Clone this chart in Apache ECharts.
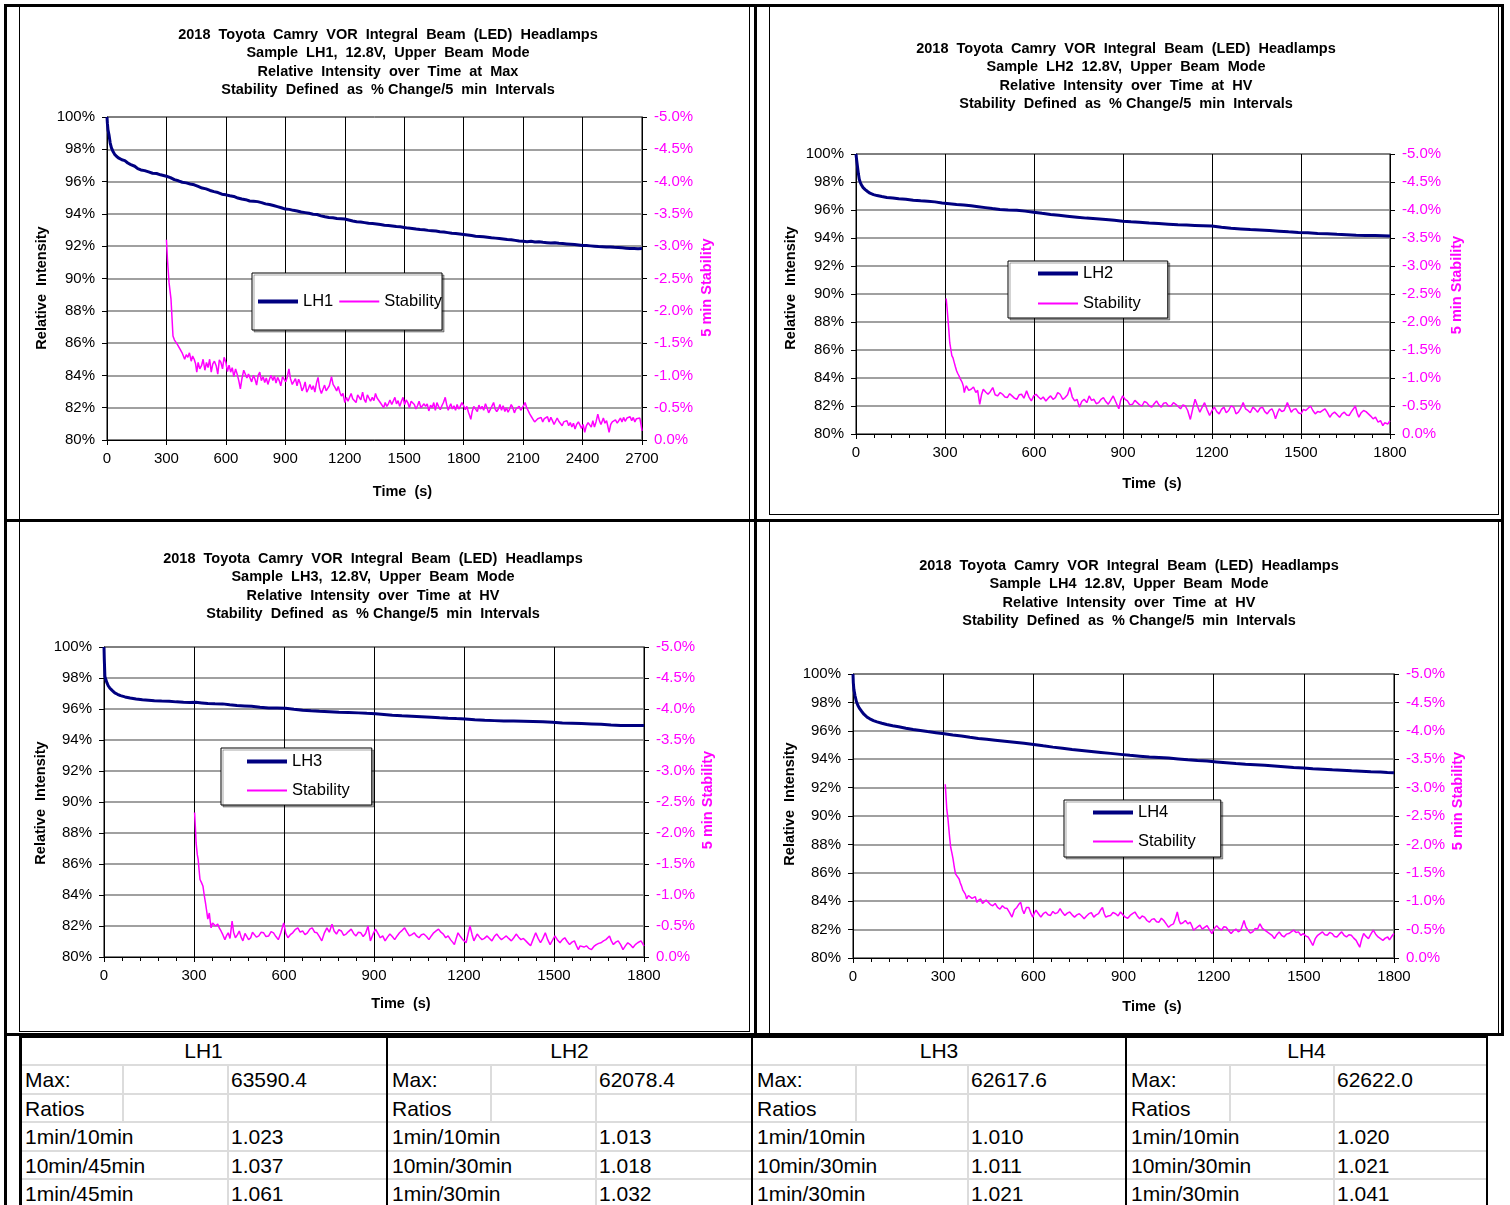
<!DOCTYPE html>
<html><head><meta charset="utf-8">
<script src="https://cdn.jsdelivr.net/npm/echarts@6/dist/echarts.min.js"></script>
<style>
html,body{margin:0;padding:0;background:#fff;width:1510px;height:1205px;overflow:hidden;font-family:"Liberation Sans",Arial,sans-serif;}
.ln{position:absolute;background:#000;z-index:5;}
.box{position:absolute;border:1px solid #000;box-sizing:border-box;z-index:1;}
#chart{position:absolute;left:0;top:0;width:1510px;height:1034px;z-index:3;}
.tx{position:absolute;font-size:21px;color:#000;white-space:nowrap;line-height:28px;height:28px;z-index:4;}
.gl{position:absolute;background:#dcdcdc;z-index:2;}
</style></head>
<body>
<div class="box" style="left:19px;top:5px;width:731px;height:516px"></div>
<div class="box" style="left:769px;top:5px;width:730px;height:510px"></div>
<div class="box" style="left:19px;top:520px;width:731px;height:512px"></div>
<div class="box" style="left:769px;top:520px;width:730px;height:514px"></div>
<div class="ln" style="left:4px;top:4px;width:1500px;height:3px"></div>
<div class="ln" style="left:4px;top:4px;width:3px;height:1201px"></div>
<div class="ln" style="left:1501px;top:4px;width:3px;height:1031px"></div>
<div class="ln" style="left:754px;top:4px;width:3px;height:1031px"></div>
<div class="ln" style="left:4px;top:519px;width:1500px;height:3px"></div>
<div class="ln" style="left:4px;top:1033px;width:1500px;height:3px"></div>
<div id="chart"></div>
<div id="tbl"></div>
<script>
// ---------------- DATA ----------------
const lh1Intensity = [[0,100],[2,99.6],[5,99.2],[10,98.9],[16,98.4],[22,98.1],[29,97.9],[38,97.7],[49,97.55],[60,97.45],[75,97.35],[90,97.3],[105,97.15],[120,97.05],[140,96.95],[155,96.8],[171,96.72],[190,96.68],[210,96.6],[230,96.52],[250,96.5],[270,96.42],[300,96.33],[320,96.25],[340,96.12],[360,96.05],[380,95.96],[400,95.92],[420,95.85],[440,95.8],[460,95.7],[480,95.6],[500,95.55],[520,95.45],[540,95.38],[560,95.32],[580,95.22],[600,95.18],[620,95.12],[640,95.08],[660,94.98],[680,94.92],[700,94.88],[720,94.8],[740,94.78],[760,94.76],[780,94.7],[800,94.62],[820,94.58],[840,94.52],[860,94.45],[880,94.38],[900,94.3],[920,94.28],[940,94.22],[960,94.18],[980,94.12],[1000,94.08],[1020,94.04],[1040,93.98],[1060,93.96],[1080,93.88],[1100,93.82],[1120,93.78],[1140,93.76],[1160,93.72],[1180,93.7],[1200,93.68],[1220,93.62],[1240,93.56],[1260,93.52],[1280,93.5],[1300,93.46],[1320,93.42],[1340,93.4],[1360,93.38],[1380,93.34],[1400,93.3],[1420,93.28],[1440,93.25],[1460,93.22],[1480,93.2],[1500,93.16],[1520,93.12],[1540,93.1],[1560,93.06],[1580,93.03],[1600,93.02],[1620,92.98],[1640,92.96],[1660,92.94],[1680,92.9],[1700,92.88],[1720,92.84],[1740,92.8],[1760,92.79],[1780,92.76],[1800,92.73],[1820,92.7],[1840,92.66],[1860,92.62],[1880,92.6],[1900,92.58],[1920,92.55],[1940,92.52],[1960,92.5],[1980,92.48],[2000,92.45],[2020,92.42],[2040,92.4],[2060,92.36],[2080,92.32],[2100,92.3],[2120,92.28],[2140,92.3],[2160,92.26],[2180,92.27],[2200,92.24],[2220,92.22],[2240,92.2],[2260,92.22],[2280,92.18],[2300,92.16],[2320,92.14],[2340,92.12],[2360,92.1],[2380,92.08],[2400,92.05],[2420,92.04],[2440,92.02],[2460,92.0],[2480,91.98],[2500,91.97],[2520,91.95],[2540,91.95],[2560,91.93],[2580,91.92],[2600,91.9],[2620,91.88],[2640,91.86],[2660,91.85],[2680,91.84],[2700,91.85]];
const lh1Stability = [[300,-3.10],[305,-2.80],[313,-2.44],[323,-2.18],[328,-2.20],[333,-1.61],[340,-1.55],[348,-1.53],[355,-1.48],[362,-1.46],[370,-1.40],[379,-1.35],[385,-1.38],[392,-1.25],[400,-1.32],[408,-1.28],[416,-1.35],[425,-1.22],[432,-1.30],[440,-1.25],[447,-1.18],[453,-1.05],[460,-1.20],[468,-1.10],[477,-1.15],[485,-1.25],[494,-1.08],[502,-1.20],[510,-1.12],[518,-1.25],[526,-1.05],[534,-1.18],[542,-1.22],[551,-1.15],[559,-1.02],[567,-1.24],[575,-1.20],[583,-1.10],[591,-1.28],[600,-1.20],[608,-1.06],[616,-1.16],[624,-1.05],[632,-1.12],[640,-0.98],[649,-1.10],[657,-1.02],[665,-0.92],[673,-0.79],[681,-0.95],[690,-1.08],[698,-1.10],[706,-0.96],[714,-1.02],[722,-0.99],[730,-0.90],[739,-1.00],[747,-0.94],[755,-0.85],[763,-1.00],[771,-1.05],[779,-0.92],[788,-0.98],[796,-0.89],[804,-0.96],[812,-0.86],[820,-0.94],[828,-1.00],[837,-0.92],[845,-0.99],[853,-0.88],[861,-0.97],[869,-0.92],[877,-0.84],[886,-0.98],[894,-0.94],[902,-0.90],[910,-0.98],[918,-1.10],[926,-0.95],[935,-0.86],[943,-0.89],[951,-0.95],[959,-0.84],[967,-0.94],[975,-0.88],[984,-0.76],[992,-0.81],[1000,-0.90],[1008,-0.74],[1016,-0.79],[1024,-0.86],[1033,-0.78],[1041,-0.84],[1049,-0.74],[1057,-0.88],[1065,-0.97],[1073,-0.80],[1082,-0.72],[1090,-0.74],[1098,-0.85],[1106,-0.76],[1114,-0.79],[1122,-0.84],[1133,-0.98],[1141,-0.86],[1151,-0.81],[1159,-0.76],[1167,-0.83],[1175,-0.74],[1183,-0.68],[1191,-0.72],[1200,-0.58],[1208,-0.66],[1216,-0.60],[1224,-0.63],[1232,-0.72],[1240,-0.64],[1249,-0.66],[1257,-0.58],[1265,-0.70],[1273,-0.68],[1281,-0.62],[1290,-0.74],[1298,-0.63],[1306,-0.58],[1314,-0.70],[1322,-0.68],[1330,-0.60],[1339,-0.66],[1347,-0.61],[1355,-0.72],[1363,-0.65],[1371,-0.68],[1379,-0.58],[1388,-0.55],[1396,-0.50],[1404,-0.58],[1412,-0.52],[1420,-0.56],[1428,-0.62],[1437,-0.55],[1445,-0.58],[1453,-0.66],[1461,-0.56],[1469,-0.61],[1477,-0.52],[1486,-0.60],[1494,-0.66],[1502,-0.55],[1510,-0.62],[1518,-0.58],[1526,-0.50],[1535,-0.60],[1543,-0.61],[1551,-0.55],[1559,-0.48],[1567,-0.53],[1575,-0.60],[1584,-0.50],[1592,-0.48],[1600,-0.56],[1608,-0.52],[1616,-0.56],[1624,-0.45],[1633,-0.54],[1641,-0.50],[1649,-0.58],[1657,-0.46],[1665,-0.58],[1673,-0.52],[1682,-0.47],[1690,-0.53],[1698,-0.58],[1707,-0.66],[1714,-0.55],[1722,-0.46],[1726,-0.50],[1735,-0.56],[1743,-0.48],[1751,-0.53],[1759,-0.46],[1767,-0.55],[1775,-0.48],[1783,-0.52],[1791,-0.58],[1800,-0.53],[1808,-0.47],[1816,-0.52],[1824,-0.43],[1830,-0.38],[1836,-0.32],[1843,-0.44],[1851,-0.52],[1861,-0.50],[1869,-0.44],[1877,-0.54],[1885,-0.48],[1893,-0.52],[1901,-0.46],[1910,-0.56],[1918,-0.50],[1926,-0.42],[1934,-0.45],[1942,-0.52],[1951,-0.58],[1959,-0.48],[1967,-0.44],[1975,-0.48],[1983,-0.55],[1991,-0.46],[1999,-0.53],[2008,-0.44],[2016,-0.50],[2024,-0.43],[2032,-0.48],[2040,-0.55],[2048,-0.50],[2056,-0.42],[2064,-0.48],[2072,-0.45],[2080,-0.52],[2088,-0.46],[2096,-0.50],[2104,-0.54],[2110,-0.58],[2118,-0.50],[2126,-0.45],[2134,-0.40],[2142,-0.36],[2150,-0.32],[2158,-0.28],[2166,-0.25],[2174,-0.33],[2182,-0.30],[2191,-0.35],[2199,-0.28],[2207,-0.33],[2215,-0.30],[2223,-0.36],[2231,-0.28],[2240,-0.35],[2248,-0.30],[2256,-0.24],[2264,-0.27],[2272,-0.34],[2280,-0.29],[2289,-0.32],[2297,-0.22],[2305,-0.28],[2313,-0.25],[2321,-0.30],[2330,-0.22],[2338,-0.27],[2346,-0.20],[2354,-0.26],[2362,-0.17],[2370,-0.24],[2379,-0.28],[2387,-0.25],[2395,-0.18],[2403,-0.24],[2411,-0.12],[2419,-0.22],[2428,-0.27],[2436,-0.27],[2444,-0.20],[2452,-0.30],[2460,-0.20],[2468,-0.28],[2477,-0.40],[2485,-0.30],[2493,-0.24],[2497,-0.27],[2505,-0.34],[2513,-0.26],[2521,-0.30],[2527,-0.22],[2534,-0.12],[2542,-0.24],[2550,-0.28],[2558,-0.25],[2566,-0.31],[2575,-0.26],[2583,-0.30],[2591,-0.34],[2599,-0.28],[2607,-0.35],[2615,-0.29],[2624,-0.34],[2632,-0.32],[2640,-0.36],[2648,-0.30],[2656,-0.35],[2664,-0.28],[2672,-0.33],[2681,-0.30],[2689,-0.34],[2695,-0.24],[2700,-0.14]];

const lh2Intensity = [[0,100],[2,99.6],[5,99.1],[8,98.6],[11,98.2],[14,98.0],[18,97.8],[24,97.6],[31,97.46],[39,97.32],[47,97.2],[59,97.1],[71,97.03],[87,96.96],[104,96.9],[124,96.86],[144,96.8],[168,96.76],[193,96.7],[218,96.66],[242,96.63],[266,96.58],[290,96.5],[315,96.45],[339,96.4],[363,96.36],[388,96.3],[412,96.24],[436,96.17],[460,96.1],[485,96.03],[513,96.0],[542,95.99],[570,95.92],[599,95.84],[627,95.76],[656,95.68],[684,95.62],[712,95.56],[745,95.49],[777,95.42],[810,95.37],[842,95.32],[871,95.26],[899,95.2],[927,95.16],[955,95.13],[988,95.08],[1020,95.04],[1053,94.99],[1085,94.94],[1114,94.92],[1142,94.9],[1170,94.88],[1199,94.85],[1232,94.77],[1264,94.7],[1297,94.65],[1329,94.6],[1361,94.57],[1393,94.54],[1426,94.49],[1458,94.44],[1491,94.4],[1523,94.37],[1556,94.33],[1588,94.3],[1621,94.26],[1653,94.23],[1686,94.2],[1718,94.18],[1750,94.17],[1775,94.16],[1800,94.15]];
const lh2Stability = [[304,-2.42],[307,-2.25],[310,-2.05],[313,-1.85],[316,-1.63],[320,-1.50],[323,-1.40],[327,-1.36],[331,-1.28],[335,-1.20],[339,-1.13],[343,-1.08],[347,-1.04],[352,-0.98],[358,-0.92],[362,-0.85],[365,-0.74],[369,-0.82],[372,-0.86],[380,-0.78],[388,-0.80],[396,-0.84],[404,-0.74],[410,-0.78],[417,-0.53],[423,-0.70],[429,-0.80],[437,-0.75],[445,-0.71],[453,-0.76],[461,-0.83],[469,-0.70],[477,-0.68],[486,-0.74],[494,-0.71],[502,-0.66],[510,-0.65],[518,-0.72],[526,-0.68],[534,-0.64],[542,-0.62],[550,-0.70],[558,-0.71],[566,-0.64],[575,-0.77],[583,-0.66],[591,-0.59],[599,-0.68],[607,-0.71],[615,-0.66],[623,-0.62],[631,-0.66],[640,-0.59],[648,-0.64],[656,-0.68],[664,-0.62],[672,-0.65],[680,-0.74],[688,-0.71],[697,-0.62],[705,-0.65],[713,-0.70],[721,-0.83],[729,-0.66],[737,-0.59],[745,-0.62],[753,-0.48],[761,-0.58],[769,-0.62],[778,-0.56],[786,-0.68],[794,-0.60],[802,-0.62],[810,-0.54],[818,-0.56],[826,-0.62],[834,-0.65],[842,-0.58],[850,-0.53],[858,-0.60],[867,-0.68],[875,-0.58],[880,-0.52],[886,-0.45],[892,-0.60],[899,-0.68],[907,-0.62],[915,-0.59],[923,-0.52],[932,-0.53],[940,-0.60],[948,-0.56],[956,-0.52],[964,-0.50],[972,-0.58],[980,-0.56],[989,-0.50],[997,-0.48],[1005,-0.54],[1013,-0.59],[1021,-0.52],[1029,-0.48],[1037,-0.55],[1045,-0.56],[1053,-0.50],[1062,-0.50],[1070,-0.56],[1078,-0.53],[1086,-0.49],[1094,-0.45],[1102,-0.52],[1110,-0.50],[1118,-0.42],[1127,-0.26],[1135,-0.45],[1143,-0.62],[1151,-0.50],[1159,-0.39],[1167,-0.48],[1175,-0.56],[1183,-0.44],[1192,-0.33],[1200,-0.42],[1208,-0.48],[1216,-0.40],[1224,-0.36],[1232,-0.44],[1240,-0.48],[1248,-0.38],[1256,-0.42],[1264,-0.50],[1273,-0.48],[1281,-0.36],[1289,-0.39],[1297,-0.46],[1305,-0.56],[1313,-0.45],[1321,-0.42],[1329,-0.38],[1338,-0.48],[1346,-0.44],[1354,-0.39],[1362,-0.46],[1370,-0.48],[1378,-0.40],[1386,-0.36],[1394,-0.42],[1402,-0.45],[1408,-0.38],[1414,-0.27],[1421,-0.38],[1427,-0.45],[1435,-0.40],[1443,-0.42],[1448,-0.48],[1454,-0.56],[1460,-0.48],[1467,-0.39],[1475,-0.44],[1483,-0.45],[1491,-0.38],[1500,-0.36],[1508,-0.44],[1516,-0.42],[1524,-0.46],[1532,-0.50],[1540,-0.42],[1548,-0.36],[1556,-0.40],[1565,-0.39],[1573,-0.42],[1581,-0.45],[1589,-0.38],[1597,-0.30],[1605,-0.36],[1613,-0.39],[1621,-0.35],[1630,-0.30],[1638,-0.36],[1646,-0.39],[1654,-0.34],[1662,-0.33],[1670,-0.40],[1677,-0.45],[1683,-0.50],[1689,-0.38],[1695,-0.30],[1703,-0.38],[1711,-0.42],[1719,-0.40],[1727,-0.36],[1735,-0.32],[1743,-0.27],[1751,-0.30],[1760,-0.21],[1768,-0.24],[1776,-0.15],[1782,-0.20],[1787,-0.22],[1793,-0.18],[1800,-0.24]];

const lh3Intensity = [[0,100],[1,99.2],[3,98.1],[6,97.9],[10,97.68],[14,97.5],[19,97.36],[27,97.2],[36,97.04],[45,96.95],[55,96.86],[70,96.78],[87,96.71],[107,96.65],[128,96.6],[148,96.57],[168,96.54],[192,96.52],[217,96.5],[241,96.46],[265,96.43],[286,96.42],[306,96.43],[326,96.39],[346,96.35],[370,96.34],[395,96.33],[419,96.27],[443,96.22],[468,96.2],[492,96.18],[520,96.12],[549,96.07],[577,96.06],[605,96.05],[633,95.98],[662,95.92],[690,95.88],[718,95.85],[751,95.82],[783,95.79],[815,95.77],[848,95.75],[876,95.72],[905,95.7],[933,95.65],[961,95.6],[993,95.56],[1026,95.53],[1058,95.5],[1091,95.47],[1119,95.43],[1147,95.4],[1175,95.38],[1204,95.36],[1236,95.31],[1269,95.27],[1301,95.25],[1333,95.23],[1365,95.22],[1398,95.21],[1430,95.2],[1463,95.18],[1495,95.14],[1528,95.1],[1560,95.08],[1592,95.06],[1625,95.04],[1657,95.02],[1690,94.97],[1722,94.93],[1760,94.93],[1800,94.93]];
const lh3Stability = [[302,-2.33],[305,-2.05],[307,-1.84],[311,-1.65],[314,-1.57],[317,-1.40],[320,-1.25],[325,-1.20],[330,-1.14],[334,-1.00],[338,-0.88],[342,-0.75],[346,-0.61],[351,-0.71],[354,-0.58],[357,-0.47],[362,-0.55],[366,-0.58],[372,-0.50],[379,-0.53],[385,-0.46],[390,-0.42],[396,-0.36],[403,-0.28],[408,-0.34],[414,-0.39],[420,-0.30],[427,-0.58],[432,-0.40],[438,-0.31],[445,-0.36],[451,-0.42],[457,-0.32],[463,-0.26],[470,-0.38],[476,-0.39],[482,-0.28],[489,-0.31],[495,-0.40],[500,-0.39],[508,-0.32],[516,-0.34],[524,-0.40],[532,-0.39],[540,-0.33],[549,-0.34],[557,-0.41],[565,-0.39],[573,-0.33],[581,-0.28],[590,-0.40],[599,-0.55],[606,-0.38],[613,-0.31],[621,-0.36],[629,-0.39],[637,-0.44],[646,-0.47],[654,-0.40],[662,-0.42],[670,-0.36],[678,-0.39],[686,-0.45],[694,-0.47],[702,-0.40],[710,-0.39],[718,-0.33],[726,-0.26],[734,-0.38],[743,-0.47],[751,-0.40],[760,-0.53],[767,-0.42],[775,-0.37],[783,-0.44],[791,-0.42],[799,-0.35],[807,-0.37],[815,-0.41],[824,-0.45],[832,-0.38],[840,-0.34],[848,-0.40],[856,-0.39],[864,-0.33],[872,-0.38],[880,-0.50],[888,-0.26],[896,-0.36],[905,-0.45],[913,-0.38],[921,-0.31],[929,-0.34],[937,-0.26],[945,-0.32],[953,-0.37],[961,-0.33],[969,-0.28],[977,-0.34],[985,-0.39],[994,-0.43],[1002,-0.47],[1010,-0.40],[1018,-0.34],[1026,-0.36],[1034,-0.39],[1042,-0.34],[1050,-0.31],[1058,-0.36],[1066,-0.37],[1075,-0.33],[1083,-0.28],[1091,-0.34],[1099,-0.39],[1107,-0.42],[1115,-0.45],[1123,-0.40],[1131,-0.37],[1139,-0.31],[1147,-0.34],[1155,-0.28],[1162,-0.24],[1168,-0.20],[1174,-0.30],[1180,-0.39],[1188,-0.33],[1196,-0.28],[1202,-0.25],[1207,-0.23],[1214,-0.38],[1220,-0.50],[1227,-0.36],[1233,-0.26],[1239,-0.32],[1244,-0.37],[1252,-0.32],[1260,-0.28],[1268,-0.30],[1277,-0.34],[1285,-0.30],[1293,-0.26],[1301,-0.33],[1309,-0.37],[1317,-0.32],[1325,-0.28],[1333,-0.31],[1341,-0.34],[1349,-0.30],[1358,-0.26],[1366,-0.31],[1374,-0.37],[1382,-0.32],[1390,-0.28],[1398,-0.30],[1406,-0.26],[1414,-0.22],[1422,-0.18],[1430,-0.28],[1439,-0.39],[1447,-0.30],[1455,-0.23],[1463,-0.30],[1471,-0.39],[1479,-0.28],[1487,-0.20],[1495,-0.27],[1503,-0.34],[1511,-0.28],[1520,-0.23],[1528,-0.28],[1536,-0.31],[1544,-0.25],[1552,-0.20],[1560,-0.24],[1568,-0.26],[1575,-0.18],[1581,-0.12],[1587,-0.18],[1592,-0.20],[1600,-0.16],[1608,-0.18],[1616,-0.14],[1625,-0.12],[1633,-0.17],[1641,-0.20],[1649,-0.22],[1657,-0.23],[1665,-0.26],[1673,-0.28],[1679,-0.30],[1685,-0.34],[1691,-0.26],[1698,-0.20],[1706,-0.24],[1714,-0.26],[1722,-0.20],[1730,-0.12],[1738,-0.18],[1746,-0.23],[1754,-0.20],[1763,-0.15],[1771,-0.20],[1779,-0.23],[1785,-0.26],[1790,-0.26],[1795,-0.22],[1800,-0.18]];

const lh4Intensity = [[0,100],[1,99.4],[3,98.9],[7,98.45],[11,98.08],[16,97.8],[21,97.6],[29,97.36],[37,97.15],[46,96.98],[56,96.84],[68,96.72],[80,96.63],[96,96.53],[112,96.44],[132,96.35],[152,96.28],[176,96.18],[200,96.09],[224,96.02],[248,95.95],[276,95.87],[304,95.79],[332,95.71],[361,95.63],[389,95.54],[417,95.46],[445,95.4],[473,95.34],[505,95.27],[537,95.2],[569,95.12],[601,95.04],[633,94.94],[665,94.85],[697,94.77],[729,94.69],[761,94.62],[793,94.55],[825,94.48],[857,94.41],[889,94.34],[921,94.27],[954,94.21],[986,94.15],[1018,94.12],[1050,94.08],[1082,94.02],[1114,93.96],[1146,93.91],[1178,93.87],[1210,93.81],[1242,93.75],[1274,93.69],[1306,93.64],[1338,93.61],[1370,93.57],[1402,93.52],[1434,93.47],[1466,93.42],[1498,93.38],[1530,93.33],[1563,93.29],[1595,93.25],[1627,93.22],[1659,93.18],[1691,93.15],[1723,93.12],[1755,93.1],[1778,93.07],[1800,93.05]];
const lh4Stability = [[307,-3.06],[310,-2.80],[312,-2.62],[316,-2.45],[319,-2.27],[322,-2.10],[325,-1.95],[329,-1.85],[333,-1.74],[337,-1.60],[341,-1.48],[347,-1.45],[353,-1.39],[357,-1.32],[361,-1.27],[365,-1.20],[369,-1.22],[374,-1.12],[378,-1.04],[384,-1.10],[390,-1.13],[396,-1.05],[401,-1.04],[407,-1.08],[412,-0.98],[418,-1.02],[425,-1.04],[431,-0.96],[437,-0.95],[443,-1.02],[449,-1.01],[457,-0.94],[465,-0.92],[473,-0.96],[481,-0.89],[489,-0.86],[497,-0.92],[505,-0.88],[513,-0.87],[521,-0.80],[529,-0.72],[537,-0.85],[545,-0.89],[551,-0.94],[558,-0.98],[563,-0.86],[569,-0.78],[577,-0.89],[585,-0.89],[591,-0.80],[598,-0.72],[604,-0.80],[609,-0.84],[617,-0.78],[625,-0.72],[633,-0.78],[641,-0.81],[649,-0.76],[657,-0.75],[665,-0.82],[673,-0.78],[681,-0.80],[689,-0.87],[697,-0.80],[705,-0.75],[713,-0.79],[721,-0.81],[729,-0.76],[737,-0.72],[745,-0.76],[753,-0.78],[761,-0.74],[769,-0.69],[777,-0.74],[785,-0.78],[793,-0.80],[801,-0.72],[809,-0.76],[817,-0.78],[823,-0.84],[830,-0.89],[836,-0.78],[841,-0.72],[849,-0.74],[857,-0.75],[865,-0.80],[874,-0.78],[882,-0.74],[890,-0.81],[898,-0.76],[906,-0.72],[914,-0.70],[922,-0.75],[930,-0.78],[938,-0.81],[946,-0.74],[954,-0.69],[962,-0.74],[970,-0.72],[978,-0.66],[986,-0.63],[994,-0.68],[1002,-0.69],[1010,-0.64],[1018,-0.63],[1026,-0.70],[1034,-0.66],[1042,-0.60],[1050,-0.54],[1058,-0.58],[1066,-0.60],[1073,-0.70],[1079,-0.81],[1085,-0.66],[1090,-0.60],[1098,-0.62],[1106,-0.66],[1114,-0.60],[1122,-0.63],[1128,-0.56],[1133,-0.49],[1140,-0.52],[1146,-0.54],[1154,-0.58],[1162,-0.51],[1170,-0.54],[1178,-0.57],[1186,-0.50],[1194,-0.43],[1202,-0.52],[1210,-0.57],[1218,-0.52],[1226,-0.49],[1234,-0.55],[1242,-0.54],[1250,-0.48],[1258,-0.43],[1266,-0.48],[1274,-0.51],[1282,-0.46],[1290,-0.49],[1296,-0.58],[1301,-0.66],[1307,-0.55],[1314,-0.49],[1322,-0.44],[1330,-0.46],[1338,-0.52],[1346,-0.51],[1350,-0.56],[1354,-0.60],[1362,-0.52],[1370,-0.49],[1378,-0.46],[1386,-0.43],[1394,-0.40],[1402,-0.34],[1410,-0.41],[1418,-0.46],[1426,-0.40],[1434,-0.37],[1442,-0.42],[1450,-0.43],[1458,-0.46],[1466,-0.49],[1474,-0.45],[1482,-0.46],[1490,-0.40],[1498,-0.43],[1506,-0.39],[1514,-0.37],[1522,-0.30],[1530,-0.22],[1538,-0.34],[1546,-0.40],[1554,-0.43],[1562,-0.46],[1570,-0.41],[1578,-0.40],[1586,-0.45],[1594,-0.43],[1602,-0.38],[1610,-0.37],[1618,-0.42],[1626,-0.46],[1634,-0.40],[1642,-0.37],[1650,-0.41],[1658,-0.40],[1666,-0.35],[1674,-0.31],[1680,-0.25],[1686,-0.19],[1692,-0.32],[1699,-0.43],[1707,-0.38],[1715,-0.34],[1723,-0.42],[1731,-0.49],[1739,-0.42],[1747,-0.37],[1755,-0.34],[1763,-0.31],[1771,-0.35],[1779,-0.37],[1785,-0.32],[1790,-0.34],[1795,-0.40],[1800,-0.43]];

const sampleNames = ['LH1', 'LH2', 'LH3', 'LH4'];
const chartTitles = [
  '2018  Toyota  Camry  VOR  Integral  Beam  (LED)  Headlamps\nSample  LH1,  12.8V,  Upper  Beam  Mode\nRelative  Intensity  over  Time  at  Max\nStability  Defined  as  % Change/5  min  Intervals',
  '2018  Toyota  Camry  VOR  Integral  Beam  (LED)  Headlamps\nSample  LH2  12.8V,  Upper  Beam  Mode\nRelative  Intensity  over  Time  at  HV\nStability  Defined  as  % Change/5  min  Intervals',
  '2018  Toyota  Camry  VOR  Integral  Beam  (LED)  Headlamps\nSample  LH3,  12.8V,  Upper  Beam  Mode\nRelative  Intensity  over  Time  at  HV\nStability  Defined  as  % Change/5  min  Intervals',
  '2018  Toyota  Camry  VOR  Integral  Beam  (LED)  Headlamps\nSample  LH4  12.8V,  Upper  Beam  Mode\nRelative  Intensity  over  Time  at  HV\nStability  Defined  as  % Change/5  min  Intervals'
];
const timeMax = [2700, 1800, 1800, 1800];
const xAxisName = 'Time  (s)';
const leftAxisName = 'Relative  Intensity';
const rightAxisName = '5 min Stability';
const stabilityName = 'Stability';

const tableMax = ['63590.4', '62078.4', '62617.6', '62622.0'];
const tableRatioLabels = [
  ['1min/10min', '10min/45min', '1min/45min'],
  ['1min/10min', '10min/30min', '1min/30min'],
  ['1min/10min', '10min/30min', '1min/30min'],
  ['1min/10min', '10min/30min', '1min/30min']
];
const tableRatioValues = [
  ['1.023', '1.037', '1.061'],
  ['1.013', '1.018', '1.032'],
  ['1.010', '1.011', '1.021'],
  ['1.020', '1.021', '1.041']
];

// ---------------- LAYOUT ----------------
const FONT = '"Liberation Sans", Arial, sans-serif';
const NAVY = '#000080', MAGENTA = '#ff00ff';
const intensities = [lh1Intensity, lh2Intensity, lh3Intensity, lh4Intensity];
const stabilities = [lh1Stability, lh2Stability, lh3Stability, lh4Stability];
// padY / padR: [left, right] padding of rotated names (shifts glyphs along the axis)
const layout = [
  {grid:{left:107,top:117,width:535,height:323}, title:[388,26], minor:false, gy:58, gr:57, gx:44,
   padY:[0,19], padR:[0,18], padX:56,
   legend:{orient:'horizontal', left:252, top:273, padding:[20,0,20,6], itemGap:6}},
  {grid:{left:856,top:154,width:534,height:280}, title:[1126,40], minor:true, gy:58, gr:59, gx:42,
   padY:[12,0], padR:[18,0], padX:58,
   legend:{orient:'vertical', left:1008, top:261, padding:[4,27,6,30], itemGap:13}},
  {grid:{left:104,top:647,width:540,height:310}, title:[373,550], minor:true, gy:56, gr:56, gx:39,
   padY:[0,2], padR:[4,0], padX:54,
   legend:{orient:'vertical', left:221, top:748, padding:[5,22,6,26], itemGap:12}},
  {grid:{left:853,top:674,width:541,height:284}, title:[1129,557], minor:true, gy:56, gr:56, gx:41,
   padY:[24,0], padR:[30,0], padX:57,
   legend:{orient:'vertical', left:1064, top:800, padding:[4,25,7,29], itemGap:12}}
];

const option = {animation:false, backgroundColor:'transparent', title:[], grid:[], xAxis:[], yAxis:[], legend:[], series:[]};
const nameStyle = {fontWeight:'bold', fontSize:14.5, color:'#000', fontFamily:FONT};
layout.forEach((L, i) => {
  option.title.push({text:chartTitles[i], left:L.title[0], top:L.title[1], textAlign:'center', padding:0,
    textStyle:{fontSize:14.5, fontWeight:'bold', color:'#000', lineHeight:18.3, fontFamily:FONT}});
  option.grid.push(Object.assign({show:true, borderColor:'#000', borderWidth:1, backgroundColor:'transparent'}, L.grid));
  option.xAxis.push({gridIndex:i, type:'value', min:0, max:timeMax[i], interval:300,
    name:xAxisName, nameLocation:'middle', nameGap:L.gx,
    nameTextStyle:Object.assign({}, nameStyle, {padding:[0,0,0,L.padX]}),
    axisLine:{show:true, lineStyle:{color:'#000', width:1}},
    axisTick:{show:true, length:5, lineStyle:{color:'#000'}},
    minorTick:{show:L.minor, splitNumber:5, length:4, lineStyle:{color:'#000'}},
    axisLabel:{color:'#000', fontSize:15, margin:11, fontFamily:FONT, formatter:v => String(v)},
    splitLine:{show:true, lineStyle:{color:'#000', width:1}}});
  option.yAxis.push({gridIndex:i, type:'value', min:80, max:100, interval:2, position:'left',
    name:leftAxisName, nameLocation:'middle', nameRotate:90, nameGap:L.gy,
    nameTextStyle:Object.assign({}, nameStyle, {padding:[0,L.padY[1],0,L.padY[0]]}),
    axisLine:{show:true, lineStyle:{color:'#000', width:1}},
    axisTick:{show:true, length:5, lineStyle:{color:'#000'}},
    axisLabel:{color:'#000', fontSize:15, margin:12, fontFamily:FONT, formatter:'{value}%'},
    splitLine:{show:true, showMaxLine:false, lineStyle:{color:'#808080', width:1.5}}});
  option.yAxis.push({gridIndex:i, type:'value', min:-5, max:0, interval:0.5, inverse:true, position:'right',
    name:rightAxisName, nameLocation:'middle', nameRotate:90, nameGap:L.gr,
    nameTextStyle:Object.assign({}, nameStyle, {color:MAGENTA, padding:[0,L.padR[1],0,L.padR[0]]}),
    axisLine:{show:true, lineStyle:{color:'#000', width:1}},
    axisTick:{show:true, length:5, lineStyle:{color:'#000'}},
    axisLabel:{color:MAGENTA, fontSize:15, margin:12, fontFamily:FONT, formatter:v => (Math.abs(v) < 1e-9 ? 0 : v).toFixed(1) + '%'},
    splitLine:{show:false}});
  option.legend.push(Object.assign({
    itemWidth:40, itemHeight:14, selectedMode:false, symbolKeepAspect:true,
    borderColor:'#000', borderWidth:1, backgroundColor:'#fff',
    shadowColor:'rgba(0,0,0,0.35)', shadowOffsetX:2, shadowOffsetY:2, shadowBlur:0,
    textStyle:{fontSize:16.5, color:'#000', fontFamily:FONT},
    data:[{name:sampleNames[i], icon:'path://M0,0H40V4H0Z'}, {name:stabilityName, icon:'path://M0,0H40V2H0Z'}]
  }, L.legend));
  option.series.push({type:'line', name:sampleNames[i], xAxisIndex:i, yAxisIndex:2*i, data:intensities[i],
    symbol:'none', showSymbol:false, lineStyle:{color:NAVY, width:3}, itemStyle:{color:NAVY}, z:3});
  option.series.push({type:'line', name:stabilityName, xAxisIndex:i, yAxisIndex:2*i+1, data:stabilities[i],
    symbol:'none', showSymbol:false, lineStyle:{color:MAGENTA, width:1.5}, itemStyle:{color:MAGENTA}, z:2});
});
const chart = echarts.init(document.getElementById('chart'), null, {renderer:'canvas'});
chart.setOption(option);

// ---------------- TABLE ----------------
(function buildTable(){
  const tbl = document.getElementById('tbl');
  const add = (cls, st, txt) => { const d = document.createElement('div'); d.className = cls; Object.assign(d.style, st); if (txt != null) d.textContent = txt; tbl.appendChild(d); return d; };
  const gx = [20, 387, 752, 1126, 1487];
  const valX = [228, 596, 968, 1334];
  const midX = [123, 491, 856, 1230];
  const rowTop = 1065, rowH = 28.5;
  add('ln', {left:'19px', top:'1035px', width:'1469px', height:'3px'});
  add('ln', {left:'19px', top:'1035px', width:'3px', height:'170px'});
  add('ln', {left:'1486px', top:'1035px', width:'2px', height:'170px'});
  for (let g = 1; g < 4; g++) add('ln', {left:(gx[g]-1)+'px', top:'1036px', width:'2px', height:'169px'});
  for (let g = 0; g < 4; g++) {
    const x0 = gx[g], x1 = gx[g+1];
    for (let r = 0; r < 6; r++) add('gl', {left:(x0+1)+'px', top:(rowTop - 1 + r*rowH)+'px', width:(x1-x0-2)+'px', height:'2px'});
    add('gl', {left:(valX[g]-1)+'px', top:rowTop+'px', width:'2px', height:(1205-rowTop)+'px'});
    add('gl', {left:(midX[g]-1)+'px', top:rowTop+'px', width:'2px', height:(2*rowH)+'px'});
    add('tx', {left:x0+'px', width:(x1-x0)+'px', top:'1037px', textAlign:'center'}, sampleNames[g]);
    const rowY = r => (rowTop + 1 + r*rowH) + 'px';
    add('tx', {left:(x0+5)+'px', top:rowY(0)}, 'Max:');
    add('tx', {left:(valX[g]+3)+'px', top:rowY(0)}, tableMax[g]);
    add('tx', {left:(x0+5)+'px', top:rowY(1)}, 'Ratios');
    for (let k = 0; k < 3; k++) {
      add('tx', {left:(x0+5)+'px', top:rowY(2+k)}, tableRatioLabels[g][k]);
      add('tx', {left:(valX[g]+3)+'px', top:rowY(2+k)}, tableRatioValues[g][k]);
    }
  }
})();
</script>
</body></html>
